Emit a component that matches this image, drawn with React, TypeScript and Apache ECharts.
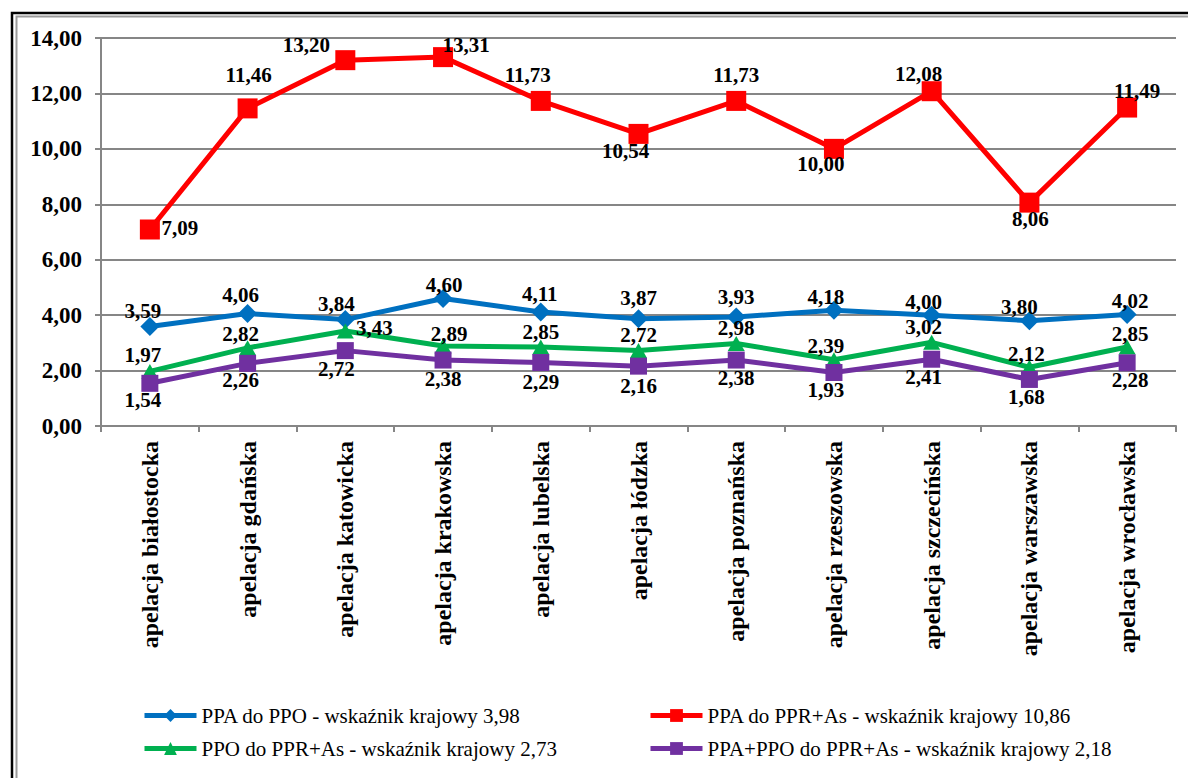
import React, { useEffect, useRef } from "react";
import * as echarts from "echarts";

const categories = [
  "apelacja białostocka",
  "apelacja gdańska",
  "apelacja katowicka",
  "apelacja krakowska",
  "apelacja lubelska",
  "apelacja łódzka",
  "apelacja poznańska",
  "apelacja rzeszowska",
  "apelacja szczecińska",
  "apelacja warszawska",
  "apelacja wrocławska",
];

const seriesNames = [
  "PPA do PPO - wskaźnik krajowy 3,98",
  "PPA do PPR+As - wskaźnik krajowy 10,86",
  "PPO do PPR+As - wskaźnik krajowy 2,73",
  "PPA+PPO do PPR+As - wskaźnik krajowy 2,18",
];

const ppaDoPpo = [3.59, 4.06, 3.84, 4.6, 4.11, 3.87, 3.93, 4.18, 4.0, 3.8, 4.02];
const ppaDoPprAs = [7.09, 11.46, 13.2, 13.31, 11.73, 10.54, 11.73, 10.0, 12.08, 8.06, 11.49];
const ppoDoPprAs = [1.97, 2.82, 3.43, 2.89, 2.85, 2.72, 2.98, 2.39, 3.02, 2.12, 2.85];
const ppaPpoDoPprAs = [1.54, 2.26, 2.72, 2.38, 2.29, 2.16, 2.38, 1.93, 2.41, 1.68, 2.28];

const yTicks = { min: 0, max: 14, interval: 2 };

// label placement (offsets from marker centre, px)
const blueLabelOffsets = [[-7, -16], [-7, -18], [-9, -16], [1, -14], [-1, -18], [0, -21], [0, -20], [-8, -13], [-8, -13], [-10, -14], [3, -14]];
const redLabelOffsets = [[30, -2], [1, -33], [-39, -15], [23, -12], [-13, -26], [-13, 17], [0, -26], [-13, 15], [-13, -17], [1, 16], [10, -17]];
const greenLabelOffsets = [[-7, -16], [-7, -14], [29, -3], [6, -12], [0, -15], [0, -16], [0, -15], [-8, -14], [-8, -15], [-3, -13], [3, -13]];
const purpleLabelOffsets = [[-7, 17], [-7, 17], [-9, 18], [0, 19], [0, 19], [0, 20], [0, 18], [-8, 17], [-8, 18], [-3, 18], [3, 17]];

const FONT = "'Times New Roman', 'Liberation Serif', serif";
const fmt = (v: number) => v.toFixed(2).replace(".", ",");

function buildSeries(
  name: string,
  values: number[],
  offsets: number[][],
  color: string,
  symbol: string,
  symbolSize: number | number[]
) {
  return {
    name,
    type: "line",
    data: values.map((v, i) => ({ value: v, label: { offset: offsets[i] } })),
    symbol,
    symbolSize,
    itemStyle: { color },
    lineStyle: { color, width: 5 },
    label: {
      show: true,
      position: "inside",
      formatter: (p: any) => fmt(p.value),
      color: "#000",
      fontFamily: FONT,
      fontWeight: "bold",
      fontSize: 21,
    },
  };
}

export default function App() {
  const ref = useRef<HTMLDivElement>(null);
  useEffect(() => {
    if (!ref.current) return;
    document.body.style.background = "#fff";
    const chart = echarts.init(ref.current, null, { renderer: "svg" });
    const legendCommon = {
      orient: "vertical",
      top: 700,
      itemGap: 12,
      itemWidth: 52,
      itemHeight: 16,
      lineStyle: { width: 5 },
      textStyle: { fontFamily: FONT, fontSize: 21, color: "#000" },
    };
    const option: any = {
      animation: false,
      backgroundColor: "#fff",
      textStyle: { fontFamily: FONT },
      graphic: [
        {
          type: "rect",
          shape: { x: 12, y: 13, width: 1400, height: 1000 },
          style: { fill: "none", stroke: "#000", lineWidth: 2.5 },
          silent: true,
        },
        {
          type: "rect",
          shape: { x: 16.5, y: 16.5, width: 1400, height: 1000 },
          style: { fill: "none", stroke: "#9a9a9a", lineWidth: 2 },
          silent: true,
        },
      ],
      grid: { left: 101, top: 38, right: 12, bottom: 352, containLabel: false },
      xAxis: {
        type: "category",
        data: categories,
        boundaryGap: true,
        axisLine: { lineStyle: { color: "#868686", width: 2 } },
        axisTick: { show: true, alignWithLabel: false, length: 6, lineStyle: { color: "#868686", width: 2 } },
        axisLabel: {
          rotate: 90,
          interval: 0,
          margin: 15,
          color: "#000",
          fontFamily: FONT,
          fontWeight: "bold",
          fontSize: 24,
        },
      },
      yAxis: {
        type: "value",
        min: yTicks.min,
        max: yTicks.max,
        interval: yTicks.interval,
        axisLine: { show: true, lineStyle: { color: "#868686", width: 2 } },
        axisTick: { show: true, length: 6, lineStyle: { color: "#868686", width: 2 } },
        splitLine: { show: true, lineStyle: { color: "#868686", width: 2 } },
        axisLabel: {
          margin: 19,
          color: "#000",
          fontFamily: FONT,
          fontWeight: "bold",
          fontSize: 23,
          formatter: (v: number) => fmt(v),
        },
      },
      legend: [
        { ...legendCommon, data: [seriesNames[0], seriesNames[2]], left: 137 },
        { ...legendCommon, data: [seriesNames[1], seriesNames[3]], left: 643 },
      ],
      series: [
        buildSeries(seriesNames[0], ppaDoPpo, blueLabelOffsets, "#0070C0", "diamond", 19),
        buildSeries(seriesNames[1], ppaDoPprAs, redLabelOffsets, "#FF0000", "rect", 20),
        buildSeries(seriesNames[2], ppoDoPprAs, greenLabelOffsets, "#00B050", "triangle", [17, 15]),
        buildSeries(seriesNames[3], ppaPpoDoPprAs, purpleLabelOffsets, "#7030A0", "rect", 17),
      ],
    };
    chart.setOption(option);
    return () => chart.dispose();
  }, []);
  return (
    <div
      ref={ref}
      style={{ position: "absolute", left: 0, top: 0, width: 1188, height: 778 }}
    />
  );
}
